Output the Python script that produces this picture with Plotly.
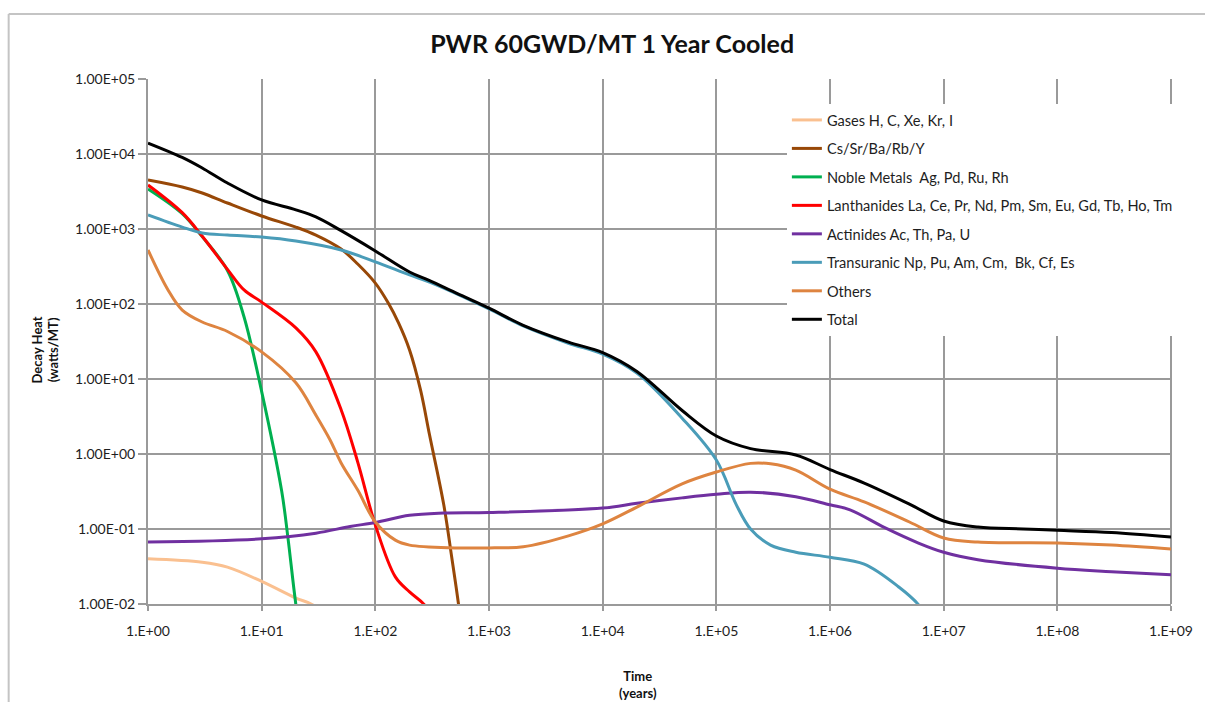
import plotly.graph_objects as go

# Decay heat per constituent group, watts/MT versus years after discharge
gases_t = [1, 3, 5, 10, 20, 28, 40]
gases_v = [0.040, 0.036, 0.031, 0.020, 0.012, 0.0098, 0.006]

cs_t = [1, 2, 3, 5, 10, 20, 30, 50, 70, 100, 130, 160, 200, 250, 300, 400, 470, 540, 650]
cs_v = [4500, 3630, 3020, 2220, 1490, 1060, 830, 540, 341, 190, 103, 56, 24.4, 7.1, 1.79,
        0.21, 0.042, 0.0098, 0.001]

noble_t = [1, 2, 3, 5, 7, 10, 15, 17, 20, 25]
noble_v = [3420, 1600, 790, 280, 67, 6.8, 0.32, 0.078, 0.0098, 0.001]

lanth_t = [1, 2, 3, 5, 7, 10, 20, 30, 50, 70, 100, 150, 200, 270, 400]
lanth_v = [3860, 1650, 800, 290, 154, 106, 48, 23, 3.9, 0.78, 0.113, 0.023, 0.0145, 0.0098, 0.004]

actin_t = [1, 10, 30, 60, 100, 200, 400, 1e3, 1e4, 2e4, 5e4, 1e5, 2e5, 5e5, 1e6,
           1.5e6, 3e6, 6e6, 1e7, 2e7, 1e8, 3e8, 1e9]
actin_v = [0.067, 0.074, 0.088, 0.108, 0.122, 0.152, 0.163, 0.166, 0.19, 0.22, 0.26, 0.29,
           0.31, 0.27, 0.21, 0.18, 0.105, 0.065, 0.049, 0.039, 0.030, 0.027, 0.0245]

trans_t = [1, 2, 3, 5, 10, 20, 50, 100, 200, 300, 1e3, 2e3, 5e3, 1e4, 2e4, 5e4, 1e5,
           1.5e5, 2e5, 3e5, 5e5, 1e6, 2e6, 4e6, 6e6, 1e7]
trans_v = [1540, 1060, 885, 830, 780, 690, 525, 365, 244, 196, 86, 51, 30, 21.5, 12, 3.0,
           0.83, 0.21, 0.10, 0.061, 0.049, 0.042, 0.034, 0.017, 0.0098, 0.003]

others_t = [1, 1.5, 2, 3, 5, 10, 20, 30, 40, 50, 70, 100, 150, 200, 500, 1e3, 2e3, 5e3,
            1e4, 2e4, 5e4, 1e5, 2e5, 3e5, 5e5, 1e6, 2e6, 5e6, 1e7, 2e7, 1e8, 3e8, 1e9]
others_v = [525, 154, 83, 57.5, 43, 23, 8.9, 3.3, 1.54, 0.76, 0.33, 0.124, 0.071, 0.061, 0.056,
            0.056, 0.058, 0.081, 0.117, 0.196, 0.40, 0.575, 0.75, 0.74, 0.61, 0.34, 0.23,
            0.124, 0.076, 0.067, 0.065, 0.061, 0.054]

total_t = [1, 2, 3, 5, 10, 20, 30, 50, 100, 200, 300, 500, 1e3, 2e3, 5e3, 1e4, 2e4, 5e4,
           1e5, 2e5, 5e5, 1e6, 2e6, 5e6, 1e7, 2e7, 5e7, 1e8, 3e8, 1e9]
total_v = [14000, 9000, 6500, 4100, 2440, 1800, 1450, 950, 510, 267, 205, 143, 88, 52, 31,
           22.5, 12.6, 3.8, 1.74, 1.18, 0.97, 0.62, 0.41, 0.215, 0.128, 0.106, 0.100, 0.096,
           0.090, 0.078]

series_names = [
    "Gases H, C, Xe, Kr, I",
    "Cs/Sr/Ba/Rb/Y",
    "Noble Metals  Ag, Pd, Ru, Rh",
    "Lanthanides La, Ce, Pr, Nd, Pm, Sm, Eu, Gd, Tb, Ho, Tm",
    "Actinides Ac, Th, Pa, U",
    "Transuranic Np, Pu, Am, Cm,  Bk, Cf, Es",
    "Others",
    "Total",
]
series_colors = ["#FAC090", "#984807", "#00B050", "#FF0000",
                 "#7030A0", "#4A9CB8", "#DE8440", "#000000"]
series_data = [(gases_t, gases_v), (cs_t, cs_v), (noble_t, noble_v), (lanth_t, lanth_v),
               (actin_t, actin_v), (trans_t, trans_v), (others_t, others_v),
               (total_t, total_v)]

y_tickvals = [1e-2, 1e-1, 1e0, 1e1, 1e2, 1e3, 1e4, 1e5]
y_ticktext = ["1.00E-02", "1.00E-01", "1.00E+00", "1.00E+01",
              "1.00E+02", "1.00E+03", "1.00E+04", "1.00E+05"]
x_tickvals = [1, 1e1, 1e2, 1e3, 1e4, 1e5, 1e6, 1e7, 1e8, 1e9]
x_ticktext = ["1.E+00", "1.E+01", "1.E+02", "1.E+03", "1.E+04",
              "1.E+05", "1.E+06", "1.E+07", "1.E+08", "1.E+09"]

FONT = "Lato, 'Open Sans', sans-serif"
GRID = "#9a9a9a"
TEXT = "#1e1e1e"

fig = go.Figure()
for i, (name, color, (t, v)) in enumerate(zip(series_names, series_colors, series_data)):
    fig.add_trace(go.Scatter(
        x=t, y=v, name=name, mode="lines", legendgroup=f"g{i}",
        line=dict(color=color, width=3, shape="spline", smoothing=1.0),
    ))

fig.update_layout(
    width=1205, height=702,
    margin=dict(l=148, r=29, t=79, b=98),
    paper_bgcolor="white", plot_bgcolor="white",
    font=dict(family=FONT, size=14, color=TEXT),
    title=dict(text="<b>PWR 60GWD/MT 1 Year Cooled</b>", x=0.508, xanchor="center",
               y=1 - 44 / 702, yanchor="middle", yref="container",
               font=dict(family=FONT, size=25, color="#111")),
    showlegend=True,
    legend=dict(x=(790 - 148) / 1028, xanchor="left", y=0.9525, yanchor="top",
                bgcolor="white", borderwidth=0, tracegroupgap=6.5,
                font=dict(family=FONT, size=14.6, color=TEXT)),
    xaxis=dict(type="log", range=[0, 9], tickvals=x_tickvals, ticktext=x_ticktext,
               showgrid=True, gridcolor=GRID, gridwidth=1.5,
               showline=True, linecolor=GRID, linewidth=2, mirror=False,
               ticks="outside", ticklen=5, tickcolor=GRID, tickwidth=1.5,
               ticklabelstandoff=8, zeroline=False,
               tickfont=dict(family=FONT, size=14, color=TEXT)),
    yaxis=dict(type="log", range=[-2, 5], tickvals=y_tickvals, ticktext=y_ticktext,
               showgrid=True, gridcolor=GRID, gridwidth=1.5,
               showline=True, linecolor=GRID, linewidth=2,
               ticks="outside", ticklen=8, tickcolor=GRID, tickwidth=1.5,
               zeroline=False,
               tickfont=dict(family=FONT, size=14, color=TEXT)),
)

# right edge of the plotting area
fig.add_shape(type="line", xref="paper", yref="paper", x0=1, x1=1, y0=0, y1=1,
              line=dict(color=GRID, width=2), layer="below")

# outer chart frame
fig.add_shape(type="line", xref="paper", yref="paper", x0=-0.1362, x1=-0.1362,
              y0=-0.25, y1=1.1238, line=dict(color="#c4c4c4", width=2))
fig.add_shape(type="line", xref="paper", yref="paper", x0=-0.1362, x1=1.1,
              y0=1.1238, y1=1.1238, line=dict(color="#c4c4c4", width=2))

# axis titles
fig.add_annotation(text="<b>Decay Heat<br>(watts/MT)</b>", xref="paper", yref="paper",
                   x=(44 - 148) / 1028, y=(604 - 350) / 525, xanchor="center",
                   yanchor="middle", textangle=-90, showarrow=False,
                   font=dict(family=FONT, size=13, color="#111"))
fig.add_annotation(text="<b>Time<br>(years)</b>", xref="paper", yref="paper",
                   x=(640 - 148) / 1028, y=(604 - 684) / 525, xanchor="center",
                   yanchor="middle", showarrow=False,
                   font=dict(family=FONT, size=13, color="#111"))

fig.write_html("out.html")
